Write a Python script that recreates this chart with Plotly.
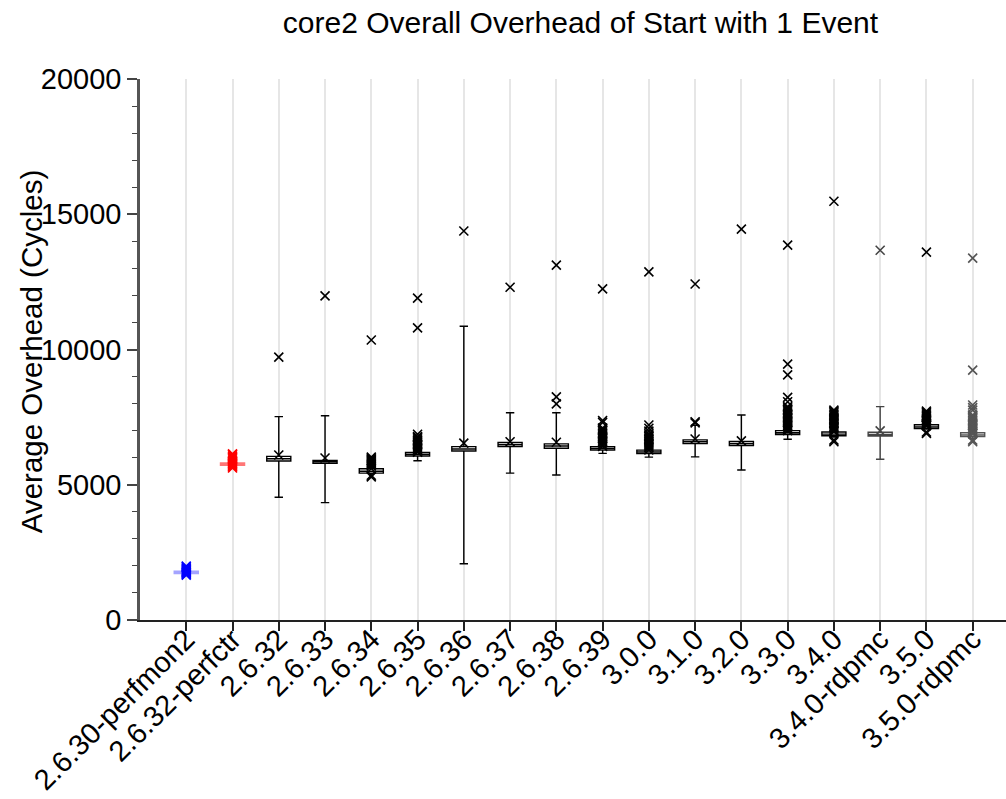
import plotly.graph_objects as go

categories = ["2.6.30-perfmon2", "2.6.32-perfctr", "2.6.32", "2.6.33", "2.6.34", "2.6.35",
              "2.6.36", "2.6.37", "2.6.38", "2.6.39", "3.0.0", "3.1.0", "3.2.0", "3.3.0",
              "3.4.0", "3.4.0-rdpmc", "3.5.0", "3.5.0-rdpmc"]

median = [1760, 5770, 5960, 5850, 5500, 6120, 6320, 6480, 6430, 6340, 6210, 6590, 6520, 6920, 6870, 6860, 7140, 6840]
q1 = [1720, 5720, 5880, 5790, 5430, 6060, 6250, 6410, 6350, 6280, 6150, 6520, 6450, 6860, 6810, 6800, 7080, 6780]
q3 = [1800, 5810, 6050, 5900, 5590, 6190, 6410, 6560, 6510, 6410, 6280, 6660, 6600, 7000, 6950, 6940, 7220, 6920]
lowerfence = [1700, 5700, 4540, 4340, 5420, 5890, 2080, 5430, 5360, 6160, 6020, 6030, 5545, 6680, 6760, 5940, 7060, 6720]
upperfence = [1830, 5850, 7520, 7550, 5640, 6260, 10860, 7660, 7660, 6420, 6300, 7200, 7580, 7000, 6960, 7890, 7220, 6920]
means = [1770, 5780, 6100, 5990, 5600, 6200, 6540, 6590, 6570, 6420, 6290, 6690, 6620, 7000, 6960, 6990, 7200, 6900]

outliers = [
    [1660, 1690, 1720, 1750, 1790, 1820, 1850, 1880, 1920, 1960, 1990],
    [5620, 5660, 5700, 5750, 5810, 5860, 5910, 5960, 6010, 6060, 6110, 6140],
    [9720],
    [11980],
    [10350, 5700, 5740, 5780, 5820, 5860, 5900, 5940, 5980, 6020, 5290, 5350],
    [11900, 10800, 6865, 6780, 6740, 6690, 6640, 6590, 6540, 6490, 6440, 6390, 6340, 6290, 6230],
    [14380],
    [12300],
    [13120, 8250, 7990],
    [12240, 7370, 7300, 7100, 7050, 7000, 6950, 6900, 6850, 6800, 6750, 6700, 6650, 6600, 6550, 6480],
    [12870, 7210, 7090, 6980, 6880, 6830, 6780, 6730, 6680, 6630, 6580, 6530, 6480, 6430, 6370],
    [12420, 7330, 7290],
    [14450],
    [13860, 9460, 9060, 8230, 8070, 7890, 7840, 7790, 7740, 7690, 7640, 7590, 7540, 7490, 7440, 7390,
     7340, 7290, 7240, 7190, 7140, 7090, 7030],
    [15480, 7760, 7710, 7660, 7610, 7560, 7510, 7460, 7410, 7360, 7310, 7260, 7210, 7160, 7110,
     7060, 7000, 6650, 6590],
    [13670],
    [13600, 7720, 7670, 7620, 7570, 7520, 7470, 7420, 7370, 7320, 7270, 7220, 7180, 6950, 6900],
    [13380, 9240, 7950, 7850, 7760, 7580, 7530, 7480, 7430, 7380, 7330, 7280, 7230, 7180, 7130,
     7080, 7030, 6970, 6910, 6650, 6590],
]

colors = ["#0000ff", "#ff0000"] + ["#000000"] * 13 + ["#444444", "#000000", "#555555"]
box_line_colors = ["rgba(90,90,255,0.55)", "rgba(255,60,60,0.7)"] + ["#000000"] * 13 + ["#444444", "#000000", "#555555"]

fig = go.Figure()

for i, cat in enumerate(categories):
    fig.add_trace(go.Box(
        x=[cat], q1=[q1[i]], median=[median[i]], q3=[q3[i]],
        lowerfence=[lowerfence[i]], upperfence=[upperfence[i]],
        width=0.52, whiskerwidth=0.35, fillcolor="white",
        line=dict(color=box_line_colors[i], width=1.4),
        boxpoints=False, showlegend=False, hoverinfo="skip",
    ))

for i, cat in enumerate(categories):
    ys = outliers[i] + [means[i]]
    fig.add_trace(go.Scatter(
        x=[cat] * len(ys), y=ys, mode="markers",
        marker=dict(symbol="x-thin", size=9, line=dict(color=colors[i], width=1.6), color=colors[i]),
        showlegend=False, hoverinfo="skip",
    ))

fig.update_layout(
    width=1006, height=799,
    margin=dict(l=140, r=0, t=79, b=179),
    paper_bgcolor="white", plot_bgcolor="white",
    font=dict(family="Liberation Sans, Arial, sans-serif", color="black"),
    title=dict(text="core2 Overall Overhead of Start with 1 Event",
               x=0.577, xanchor="center", xref="container",
               y=1 - 22 / 799, yanchor="middle", yref="container",
               font=dict(size=30, color="black")),
    annotations=[dict(
        text="Average Overhead (Cycles)", textangle=-90, showarrow=False,
        xref="paper", yref="paper", x=(31 - 140) / 866, y=0.495,
        xanchor="center", yanchor="middle", font=dict(size=29.5, color="black"),
    )],
)

fig.update_xaxes(
    type="category", categoryorder="array", categoryarray=categories,
    range=[-1.0, 17.72], showgrid=True, gridcolor="#e6e6e6", gridwidth=1.5,
    showline=True, linecolor="#222222", linewidth=1.5,
    ticks="outside", ticklen=9, tickwidth=1.5, tickcolor="#222222",
    tickangle=-45, tickfont=dict(size=29, color="black"), ticklabelstandoff=-20,
    automargin=False, zeroline=False,
)

fig.update_yaxes(
    range=[0, 20000], dtick=5000, tick0=0, tickformat="d", showgrid=False, zeroline=False,
    showline=True, linecolor="#555555", linewidth=2.5,
    ticks="outside", ticklen=10, tickwidth=1.5, tickcolor="#444444",
    tickfont=dict(size=29, color="black"),
    minor=dict(dtick=1000, ticks="outside", ticklen=5, tickwidth=1.2, tickcolor="#444444", showgrid=False),
    automargin=False,
)

fig.write_html("out.html", config={"displayModeBar": False},
               post_script="document.body.style.margin='0';document.body.style.overflow='hidden';")
